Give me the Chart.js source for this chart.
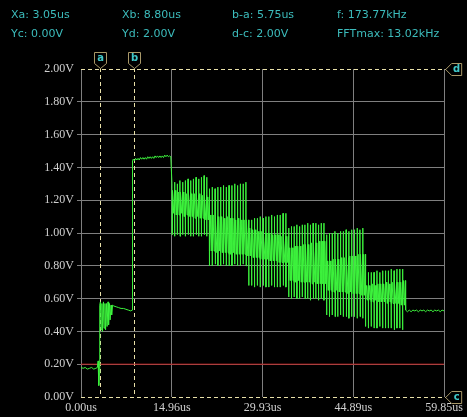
<!DOCTYPE html>
<html>
<head>
<meta charset="utf-8">
<script src="https://cdn.jsdelivr.net/npm/chart.js@4/dist/chart.umd.min.js"></script>
<style>
  html, body { margin: 0; padding: 0; background: #000; overflow: hidden; }
  #scope { position: relative; width: 467px; height: 417px; background: #000; }
  #scope canvas { position: absolute; left: 0; top: 0; }
  .readout { position: absolute; font: 11px "DejaVu Sans", sans-serif; line-height: 13px;
             color: #3cbcbc; white-space: pre; }
</style>
</head>
<body>
<div id="scope">
  <canvas id="trace" width="467" height="417"></canvas>
</div>
<script>
// ---- axis ticks ----
const xTickValues = [0.00, 14.96, 29.93, 44.89, 59.85];           // us
const yTickValues = [0.00, 0.20, 0.40, 0.60, 0.80, 1.00, 1.20, 1.40, 1.60, 1.80, 2.00]; // V

// ---- cursors and readouts ----
const cursorTimes = [3.05, 8.80];   // Xa, Xb (us)
const cursorVolts = [0.00, 2.00];   // Yc, Yd (V)
const freqKHz = 173.77;
const fftMaxKHz = 13.02;
const referenceLevel = 0.20;        // V, red reference line

// ---- captured waveform: [time us, volts] ----
const leadIn = [[0.00,0.18],[0.35,0.175],[0.70,0.18],[1.05,0.17],[1.40,0.175],[1.75,0.18],
  [2.10,0.17],[2.45,0.175],[2.70,0.18],[2.82,0.22],[2.90,0.10],[2.96,0.07],[3.02,0.14],
  [3.06,0.45],[3.12,0.56]];
const ringing = [[3.20,0.58],[3.30,0.41],[3.45,0.57],[3.55,0.40],[3.70,0.58],[3.80,0.42],
  [3.95,0.57],[4.05,0.41],[4.20,0.57],[4.30,0.43],[4.45,0.58],[4.55,0.44],[4.70,0.57],
  [4.80,0.47],[4.95,0.56],[5.05,0.50],[5.20,0.56]];
const hold = [[5.40,0.555],[5.80,0.55],[6.20,0.545],[6.60,0.54],[7.00,0.54],[7.40,0.535],
  [7.80,0.53],[8.20,0.525],[8.42,0.53],[8.46,1.38],[8.52,1.44]];
const plateau = [[8.60,1.45],[8.80,1.44],[9.00,1.455],[9.20,1.445],[9.40,1.455],[9.60,1.445],
  [9.80,1.46],[10.00,1.45],[10.20,1.46],[10.40,1.45],[10.60,1.46],[10.80,1.45],[11.00,1.465],
  [11.20,1.455],[11.40,1.465],[11.60,1.455],[11.80,1.465],[12.00,1.455],[12.20,1.47],
  [12.40,1.46],[12.60,1.47],[12.80,1.46],[13.00,1.47],[13.20,1.46],[13.40,1.47],[13.60,1.46],
  [13.80,1.475],[14.00,1.465],[14.20,1.475],[14.40,1.465],[14.60,1.47],[14.80,1.465]];

// switching bursts: start time of each burst, then per-pulse levels
const burstStarts = [14.96, 21.13, 27.62, 34.20, 40.45, 46.86];
const burstEnd = 53.44;
const spikeTops = [
  [1.30,1.31,1.30,1.32,1.31,1.32,1.33,1.32,1.33,1.34,1.33,1.34,1.35,1.34],
  [1.27,1.28,1.27,1.28,1.28,1.29,1.28,1.29,1.29,1.30,1.29,1.30,1.30,1.31],
  [1.08,1.08,1.09,1.09,1.10,1.09,1.10,1.10,1.11,1.10,1.11,1.11,1.12,1.12],
  [1.03,1.04,1.04,1.05,1.04,1.05,1.05,1.06,1.05,1.06,1.06,1.05,1.06,1.06],
  [0.99,1.00,1.00,1.01,1.00,1.01,1.01,1.02,1.01,1.02,1.02,1.03,1.02,1.03],
  [0.75,0.76,0.76,0.76,0.77,0.76,0.77,0.77,0.77,0.78,0.77,0.78,0.78,0.78]];
const bandHighs = [
  [1.26,1.26,1.25,1.25,1.25,1.24,1.25,1.24,1.24,1.23,1.24,1.23,1.23,1.22],
  [1.11,1.11,1.10,1.10,1.10,1.09,1.10,1.09,1.09,1.08,1.09,1.08,1.08,1.08],
  [1.03,1.02,1.02,1.01,1.01,1.00,1.00,1.00,0.99,0.99,0.99,0.98,0.98,0.98],
  [0.91,0.91,0.92,0.92,0.92,0.93,0.93,0.93,0.94,0.94,0.94,0.95,0.95,0.95],
  [0.83,0.83,0.84,0.84,0.84,0.85,0.85,0.85,0.86,0.86,0.86,0.87,0.87,0.87],
  [0.68,0.68,0.69,0.68,0.69,0.69,0.69,0.70,0.69,0.70,0.70,0.70,0.70,0.71]];
const bandLows = [
  [1.12,1.11,1.11,1.12,1.10,1.11,1.10,1.10,1.09,1.10,1.09,1.09,1.08,1.08],
  [0.89,0.89,0.88,0.89,0.88,0.88,0.88,0.87,0.88,0.87,0.87,0.87,0.87,0.86],
  [0.86,0.85,0.85,0.85,0.84,0.84,0.84,0.83,0.83,0.83,0.82,0.82,0.82,0.82],
  [0.71,0.71,0.70,0.71,0.70,0.70,0.70,0.70,0.69,0.70,0.69,0.69,0.69,0.69],
  [0.65,0.65,0.64,0.65,0.64,0.64,0.64,0.63,0.64,0.63,0.63,0.63,0.62,0.62],
  [0.59,0.59,0.58,0.59,0.58,0.58,0.58,0.57,0.58,0.57,0.57,0.57,0.56,0.56]];
const spikeBottoms = [
  [0.99,0.98,0.99,0.98,0.99,0.98,0.99,0.98,0.98,0.99,0.98,0.98,0.99,0.98],
  [0.80,0.80,0.81,0.80,0.80,0.81,0.80,0.80,0.80,0.81,0.80,0.80,0.81,0.80],
  [0.68,0.68,0.67,0.68,0.67,0.68,0.67,0.67,0.68,0.67,0.67,0.67,0.68,0.67],
  [0.61,0.60,0.61,0.60,0.60,0.61,0.60,0.60,0.59,0.60,0.60,0.59,0.60,0.59],
  [0.50,0.49,0.50,0.49,0.49,0.50,0.49,0.49,0.48,0.49,0.49,0.48,0.49,0.48],
  [0.43,0.42,0.43,0.42,0.42,0.43,0.42,0.42,0.42,0.42,0.41,0.42,0.42,0.41]];
const tail = [[53.50,0.53],[53.80,0.52],[54.10,0.53],[54.40,0.52],[54.70,0.53],[55.00,0.525],
  [55.30,0.53],[55.60,0.52],[55.90,0.53],[56.20,0.525],[56.50,0.53],[56.80,0.52],[57.10,0.53],
  [57.40,0.525],[57.70,0.53],[58.00,0.52],[58.30,0.53],[58.60,0.525],[58.90,0.53],[59.20,0.52],
  [59.50,0.53],[59.85,0.525]];

// ---- readout text ----
const readoutRows = [
  [`Xa: ${cursorTimes[0].toFixed(2)}us`, `Xb: ${cursorTimes[1].toFixed(2)}us`,
   `b-a: ${(cursorTimes[1] - cursorTimes[0]).toFixed(2)}us`, `f: ${freqKHz.toFixed(2)}kHz`],
  [`Yc: ${cursorVolts[0].toFixed(2)}V`, `Yd: ${cursorVolts[1].toFixed(2)}V`,
   `d-c: ${(cursorVolts[1] - cursorVolts[0]).toFixed(2)}V`, `FFTmax: ${fftMaxKHz.toFixed(2)}kHz`]];
const readoutCols = [11, 122, 232, 337];
const readoutTops = [8, 27];
const scope = document.getElementById('scope');
readoutRows.forEach((row, r) => row.forEach((txt, c) => {
  const d = document.createElement('div');
  d.className = 'readout';
  d.style.left = readoutCols[c] + 'px';
  d.style.top = readoutTops[r] + 'px';
  d.textContent = txt;
  scope.appendChild(d);
}));

// ---- assemble trace points ----
const wave = [];
const addPairs = arr => arr.forEach(([t, v]) => wave.push({ x: t, y: v }));
addPairs(leadIn); addPairs(ringing); addPairs(hold); addPairs(plateau);
burstStarts.forEach((start, s) => {
  const end = s + 1 < burstStarts.length ? burstStarts[s + 1] : burstEnd;
  const n = spikeTops[s].length;
  const step = (end - start) / n;
  for (let k = 0; k < n; k++) {
    const t = start + k * step + 0.03;
    wave.push({ x: t, y: spikeTops[s][k] });
    wave.push({ x: t + 0.01, y: spikeBottoms[s][k] });
    wave.push({ x: t + 0.03, y: bandLows[s][k] });
    wave.push({ x: t + step * 0.33, y: bandHighs[s][k] });
    wave.push({ x: t + step * 0.66, y: bandLows[s][k] });
    wave.push({ x: t + step - 0.02, y: bandHighs[s][k] });
  }
});
addPairs(tail);

// ---- cursor lines and tags ----
const CURSOR = '#e8e0a8', TAG_EDGE = '#a89868', TAG_TEXT = '#40c8c8';
const cursorPlugin = {
  id: 'scopeCursors',
  beforeDraw(chart) {
    const ctx = chart.ctx;
    ctx.save(); ctx.fillStyle = '#000'; ctx.fillRect(0, 0, chart.width, chart.height); ctx.restore();
  },
  beforeDatasetsDraw(chart) {
    const { ctx, chartArea: a, scales: { x, y } } = chart;
    ctx.save();
    ctx.strokeStyle = CURSOR; ctx.lineWidth = 1; ctx.setLineDash([4, 3]);
    cursorTimes.forEach(t => {
      const px = Math.round(x.getPixelForValue(t)) + 0.5;
      ctx.beginPath(); ctx.moveTo(px, a.top - 1); ctx.lineTo(px, a.bottom); ctx.stroke();
    });
    cursorVolts.forEach(v => {
      const py = Math.round(y.getPixelForValue(v)) + 0.5;
      ctx.beginPath(); ctx.moveTo(a.left, py); ctx.lineTo(a.right + 2, py); ctx.stroke();
    });
    ctx.restore();
  },
  afterDraw(chart) {
    const { ctx, chartArea: a, scales: { x, y } } = chart;
    ctx.save();
    ctx.lineWidth = 1; ctx.strokeStyle = TAG_EDGE; ctx.fillStyle = '#000';
    ctx.font = 'bold 10px "DejaVu Sans", sans-serif';
    ctx.textAlign = 'center'; ctx.textBaseline = 'middle';
    ['a', 'b'].forEach((name, i) => {
      const px = Math.round(x.getPixelForValue(cursorTimes[i])) + 0.5;
      const top = a.top - 16.5;
      ctx.beginPath();
      ctx.moveTo(px - 6, top); ctx.lineTo(px + 6, top); ctx.lineTo(px + 6, top + 11);
      ctx.lineTo(px, top + 16); ctx.lineTo(px - 6, top + 11); ctx.closePath();
      ctx.fillStyle = '#000'; ctx.fill(); ctx.stroke();
      ctx.fillStyle = TAG_TEXT; ctx.fillText(name, px, top + 6);
    });
    ['c', 'd'].forEach((name, i) => {
      const py = Math.round(y.getPixelForValue(cursorVolts[i])) + 0.5;
      const left = a.right + 1.5;
      ctx.beginPath();
      ctx.moveTo(left, py); ctx.lineTo(left + 6, py - 6); ctx.lineTo(left + 16, py - 6);
      ctx.lineTo(left + 16, py + 6); ctx.lineTo(left + 6, py + 6); ctx.closePath();
      ctx.fillStyle = '#000'; ctx.fill(); ctx.stroke();
      ctx.fillStyle = TAG_TEXT; ctx.fillText(name, left + 11, py);
    });
    ctx.restore();
  }
};

const GRID = '#7f7f7f';
new Chart(document.getElementById('trace'), {
  type: 'line',
  data: {
    datasets: [
      { data: wave, borderColor: '#3df23d', borderWidth: 1, pointRadius: 0, tension: 0, order: 0 },
      { data: [{ x: xTickValues[0], y: referenceLevel }, { x: xTickValues[xTickValues.length - 1], y: referenceLevel }],
        borderColor: '#c02222', borderWidth: 1, pointRadius: 0, order: 1 }
    ]
  },
  options: {
    responsive: false,
    animation: false,
    events: [],
    layout: { padding: { left: 0, top: 69, right: 22, bottom: 0 } },
    plugins: { legend: { display: false }, tooltip: { enabled: false } },
    scales: {
      x: {
        type: 'linear', min: xTickValues[0], max: xTickValues[xTickValues.length - 1],
        afterBuildTicks: s => { s.ticks = xTickValues.map(v => ({ value: v })); },
        afterFit: s => { s.height = 20; },
        border: { display: false },
        grid: { color: GRID, lineWidth: 1, drawTicks: false },
        ticks: { color: '#d0d0d0', font: { family: '"Liberation Serif", serif', size: 12 },
                 padding: 4, maxRotation: 0, autoSkip: false,
                 callback: v => Number(v).toFixed(2) + 'us' }
      },
      y: {
        type: 'linear', min: yTickValues[0], max: yTickValues[yTickValues.length - 1],
        afterBuildTicks: s => { s.ticks = yTickValues.map(v => ({ value: v })); },
        afterFit: s => { s.width = 81; },
        border: { display: false },
        grid: { lineWidth: 1, tickLength: 4,
                color: c => (c.tick && (c.tick.value === yTickValues[0] || c.tick.value === yTickValues[yTickValues.length - 1])) ? 'rgba(0,0,0,0)' : GRID },
        ticks: { color: '#d0d0d0', font: { family: '"Liberation Serif", serif', size: 12 },
                 padding: 3, autoSkip: false,
                 callback: v => Number(v).toFixed(2) + 'V' }
      }
    }
  },
  plugins: [cursorPlugin]
});
</script>
</body>
</html>
